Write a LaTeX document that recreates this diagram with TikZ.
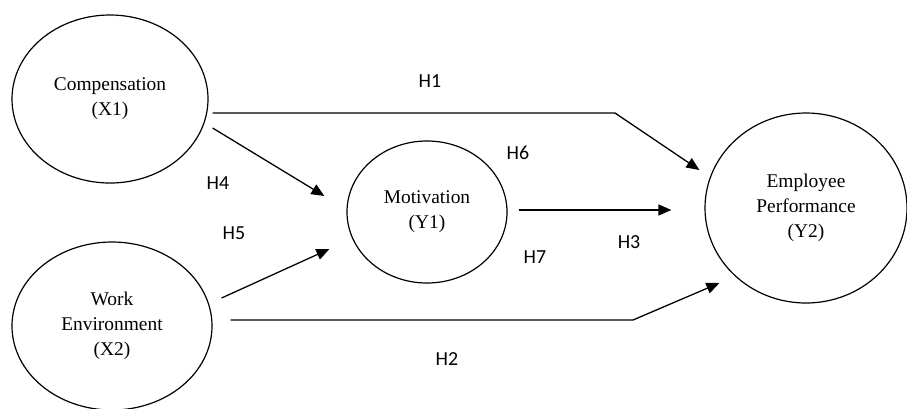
\documentclass[tikz,border=0pt]{standalone}
\usepackage{fontspec}
\setmainfont{Liberation Serif}
\newfontfamily\hfont{Carlito}
\usetikzlibrary{shapes.geometric,arrows.meta}

\begin{document}
\begin{tikzpicture}[
        x=1bp, y=-1bp,
        var/.style={draw,ellipse,line width=1.2bp,inner sep=0mm,align=center,font=\fontsize{19.5}{25}\selectfont},
        hyp/.style={font=\hfont\fontsize{20}{20}\selectfont, inner sep=0mm},
        arr/.style={line width=1.3bp,-{Triangle[length=13bp,width=11bp]}}
    ]
    \useasboundingbox (0,0) rectangle (907,408);
    \node[var, minimum width=196bp, minimum height=168bp] (comp) at (110,99) {Compensation\\(X1)};
    \node[var, minimum width=160bp, minimum height=142bp] (motiv) at (427,212) {Motivation\\(Y1)};
    \node[var, minimum width=200bp, minimum height=168bp] (workenv) at (112,326) {Work\\Environment\\(X2)};
    \node[var, minimum width=202bp, minimum height=190bp] (perf) at (806,208) {Employee\\Performance\\(Y2)};
    \coordinate (h1bend) at (615,113);
    \coordinate (h2bend) at (633,320);
    \node[hyp] (h1) at (430,81) {H1};
    \node[hyp] (h6) at (518,153) {H6};
    \node[hyp] (h4) at (218,183) {H4};
    \node[hyp] (h5) at (234,233) {H5};
    \node[hyp] (h7) at (535,257) {H7};
    \node[hyp] (h3) at (629,242) {H3};
    \node[hyp] (h2) at (447,359) {H2};
    \draw[arr] ([shift={(4,14)}]comp.east) -- (h1bend) -- ([shift={(-5,-38)}]perf.west);
    \draw[arr] ([shift={(4,29)}]comp.east) -- ([shift={(-22,-16)}]motiv.west);
    \draw[arr] ([shift={(9,-28)}]workenv.east) -- ([shift={(-17,37)}]motiv.west);
    \draw[arr] ([shift={(11,-2)}]motiv.east) -- ([shift={(-33,2)}]perf.west);
    \draw[arr] ([shift={(18,-6)}]workenv.east) -- (h2bend) -- ([shift={(15,75)}]perf.west);
\end{tikzpicture}
\end{document}
